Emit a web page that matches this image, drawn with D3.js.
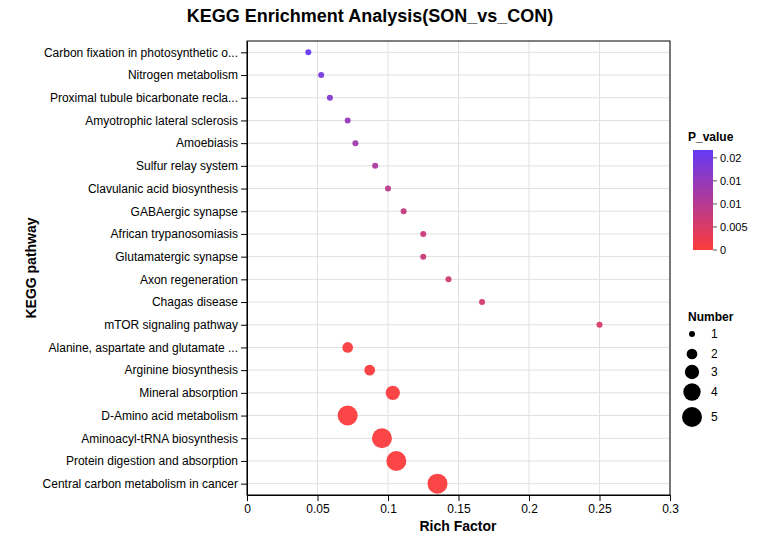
<!DOCTYPE html>
<html><head><meta charset="utf-8">
<script src="https://cdn.jsdelivr.net/npm/d3@7"></script>
<style>body{margin:0;background:#fff;} text{font-family:"Liberation Sans",Arial,sans-serif;}</style>
</head><body><svg id="c" width="762" height="545"></svg>
<script>
const pathways = ["Carbon fixation in photosynthetic o...","Nitrogen metabolism","Proximal tubule bicarbonate recla...","Amyotrophic lateral sclerosis","Amoebiasis","Sulfur relay system","Clavulanic acid biosynthesis","GABAergic synapse","African trypanosomiasis","Glutamatergic synapse","Axon regeneration","Chagas disease","mTOR signaling pathway","Alanine, aspartate and glutamate ...","Arginine biosynthesis","Mineral absorption","D-Amino acid metabolism","Aminoacyl-tRNA biosynthesis","Protein digestion and absorption","Central carbon metabolism in cancer"];
const richFactor = [0.0435,0.0526,0.0588,0.0714,0.0769,0.0909,0.1,0.1111,0.125,0.125,0.1429,0.1667,0.25,0.0714,0.087,0.1034,0.0714,0.0957,0.1059,0.1351];
const pValue = [0.0217,0.019,0.0174,0.0148,0.0132,0.0115,0.0093,0.0082,0.0072,0.0072,0.0067,0.006,0.0052,0.0004,0.0003,0.0002,0.0001,0.0001,0.0001,0.0001];
const numbers = [1,1,1,1,1,1,1,1,1,1,1,1,1,2,2,3,5,5,5,5];
const xTicks = [0,0.05,0.1,0.15,0.2,0.25,0.3];
const pTicks = [0.02,0.015,0.01,0.005,0];
const pTickLabels = ["0.02","0.01","0.01","0.005","0"];
const sizeLegend = [1,2,3,4,5];

const svg = d3.select("#c");
const m = {l:247, r:670, t:41, b:495};
const x = d3.scaleLinear().domain([0,0.3]).range([m.l,m.r]);
const y = d3.scalePoint().domain(pathways).range([m.t,m.b]).padding(0.5);
const pMax = 0.0217;
const color = d3.scaleLinear().domain([0,pMax]).range(["#fc3b3b","#6439f5"]).interpolate(d3.interpolateRgb);
const r = d3.scaleSqrt().domain([1,5]).range([3,10]);

// grid
svg.append("g").selectAll("line").data(xTicks).join("line")
  .attr("x1",d=>x(d)).attr("x2",d=>x(d)).attr("y1",m.t).attr("y2",m.b)
  .attr("stroke","#e0e0e0").attr("stroke-width",1);
svg.append("g").selectAll("line").data(pathways).join("line")
  .attr("x1",m.l).attr("x2",m.r).attr("y1",d=>y(d)).attr("y2",d=>y(d))
  .attr("stroke","#e0e0e0").attr("stroke-width",1);

// frame
svg.append("rect").attr("x",m.l).attr("y",m.t).attr("width",m.r-m.l).attr("height",m.b-m.t)
  .attr("fill","none").attr("stroke","#000").attr("stroke-width",1);

// axes
const xa = svg.append("g").attr("transform",`translate(0,${m.b})`)
  .call(d3.axisBottom(x).tickValues(xTicks).tickFormat(d3.format("~g")).tickSize(6).tickSizeOuter(0));
xa.selectAll("text").attr("font-size",12).attr("fill","#000").attr("font-family","Liberation Sans, Arial");
xa.select(".domain").attr("stroke","#000");
const ya = svg.append("g").attr("transform",`translate(${m.l},0)`)
  .call(d3.axisLeft(y).tickSize(6).tickSizeOuter(0));
ya.selectAll("text").attr("font-size",12).attr("fill","#000").attr("font-family","Liberation Sans, Arial");
ya.select(".domain").attr("stroke","#000");

// points
const data = pathways.map((p,i)=>({p, rf:richFactor[i], pv:pValue[i], n:numbers[i]}));
svg.append("g").selectAll("circle").data(data).join("circle")
  .attr("cx",d=>x(d.rf)).attr("cy",d=>y(d.p)).attr("r",d=>r(d.n))
  .attr("fill",d=>color(d.pv)).attr("fill-opacity",0.95);

// titles
svg.append("text").attr("x",370).attr("y",22).attr("text-anchor","middle")
  .attr("font-size",18).attr("font-weight","bold").text("KEGG Enrichment Analysis(SON_vs_CON)");
svg.append("text").attr("x",458).attr("y",531).attr("text-anchor","middle")
  .attr("font-size",14).attr("font-weight","bold").text("Rich Factor");
svg.append("text").attr("transform","translate(36,268) rotate(-90)").attr("text-anchor","middle")
  .attr("font-size",14).attr("font-weight","bold").text("KEGG pathway");

// color legend
const defs = svg.append("defs");
const grad = defs.append("linearGradient").attr("id","pg").attr("x1",0).attr("x2",0).attr("y1",1).attr("y2",0);
grad.append("stop").attr("offset","0%").attr("stop-color",color(0));
grad.append("stop").attr("offset","100%").attr("stop-color",color(pMax));
svg.append("text").attr("x",688).attr("y",141).attr("font-size",12).attr("font-weight","bold").text("P_value");
const ly = d3.scaleLinear().domain([0,pMax]).range([250,150]);
svg.append("rect").attr("x",693).attr("y",150).attr("width",20).attr("height",100).attr("fill","url(#pg)");
const lg = svg.append("g");
lg.selectAll("line").data(pTicks).join("line")
  .attr("x1",713).attr("x2",717).attr("y1",d=>ly(d)).attr("y2",d=>ly(d)).attr("stroke","#555");
lg.selectAll("text").data(pTicks).join("text")
  .attr("x",720).attr("y",d=>ly(d)).attr("dy","0.35em").attr("font-size",11).text((d,i)=>pTickLabels[i]);

// size legend
svg.append("text").attr("x",688).attr("y",321).attr("font-size",12).attr("font-weight","bold").text("Number");
const sy = [334,354,372,392,417];
const sg = svg.append("g");
sg.selectAll("circle").data(sizeLegend).join("circle")
  .attr("cx",692).attr("cy",(d,i)=>sy[i]).attr("r",d=>r(d)).attr("fill","#000");
sg.selectAll("text").data(sizeLegend).join("text")
  .attr("x",711).attr("y",(d,i)=>sy[i]).attr("dy","0.35em").attr("font-size",12).text(d=>d);
</script></body></html>
